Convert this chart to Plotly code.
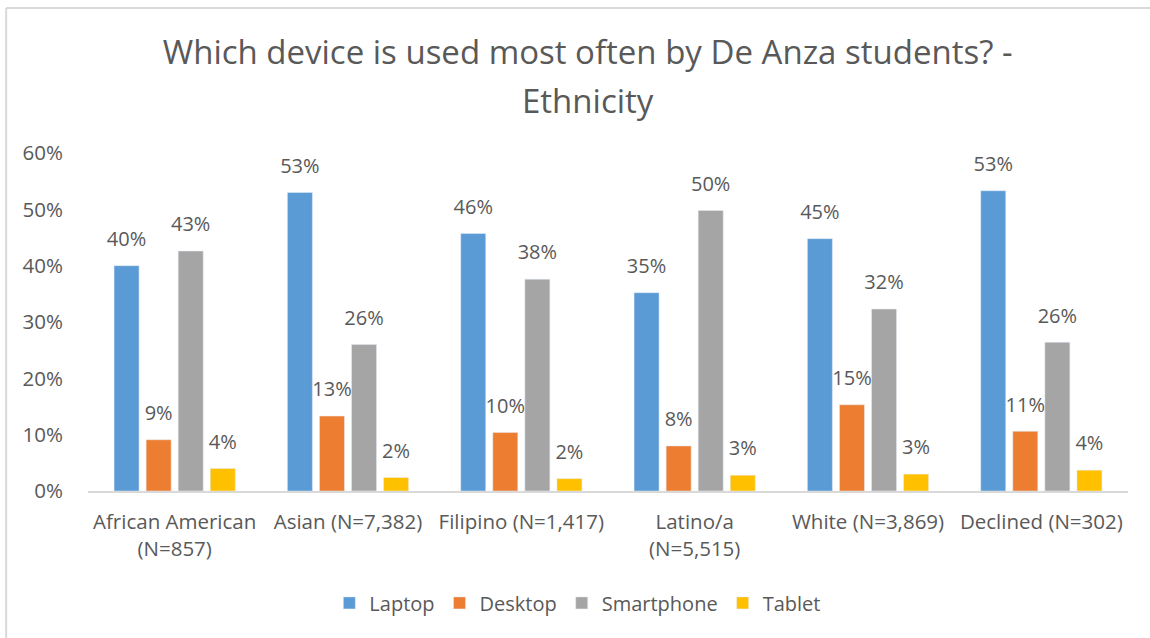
import plotly.graph_objects as go

categories = ["African American<br>(N=857)", "Asian (N=7,382)", "Filipino (N=1,417)",
              "Latino/a<br>(N=5,515)", "White (N=3,869)", "Declined (N=302)"]
laptop = [0.400, 0.530, 0.457, 0.352, 0.448, 0.533]
desktop = [0.091, 0.133, 0.104, 0.080, 0.153, 0.106]
smartphone = [0.426, 0.260, 0.376, 0.498, 0.323, 0.264]
tablet = [0.040, 0.024, 0.022, 0.028, 0.030, 0.037]

series = [("Laptop", laptop, "#5B9BD5"), ("Desktop", desktop, "#ED7D31"),
          ("Smartphone", smartphone, "#A5A5A5"), ("Tablet", tablet, "#FFC000")]

FONT = "Open Sans"
TXT = "#595959"
GAP = 0.26

fig = go.Figure()
for name, vals, color in series:
    fig.add_trace(go.Bar(x=categories, y=vals, name=name, marker_color=color,
                         offsetgroup=name))
for name, vals, color in series:
    fig.add_trace(go.Scatter(x=categories, y=vals, mode="markers+text", name=name,
                             showlegend=False, hoverinfo="skip", offsetgroup=name,
                             marker=dict(size=22, opacity=0, color=color),
                             texttemplate="%{y:.0%}", textposition="top center",
                             textfont=dict(size=20, color=TXT, family=FONT),
                             cliponaxis=False))

fig.update_layout(
    width=1150, height=638,
    paper_bgcolor="white", plot_bgcolor="white",
    font=dict(family=FONT, color=TXT, size=20),
    title=dict(text="Which device is used most often by De Anza students? -",
               x=0.511, xanchor="center", y=1 - 52 / 638, yanchor="middle",
               font=dict(size=33, color=TXT, family=FONT)),
    annotations=[dict(text="Ethnicity", xref="paper", yref="paper",
                      x=(587.5 - 88) / 1040, y=(491 - 100) / 338,
                      xanchor="center", yanchor="middle", showarrow=False,
                      font=dict(size=33, color=TXT, family=FONT))],
    margin=dict(l=88, r=22, t=153, b=147, autoexpand=False),
    barmode="group", bargap=GAP, bargroupgap=0.22,
    scattermode="group", scattergap=GAP,
    legend=dict(orientation="h", x=0.471, xanchor="center", y=-0.331, yanchor="middle",
                font=dict(size=20, color=TXT, family=FONT), itemwidth=30,
                traceorder="normal"),
    showlegend=True,
)
fig.update_xaxes(showline=True, linecolor="#D9D9D9", linewidth=1.5, showgrid=False,
                 ticks="", tickfont=dict(size=20.5, color=TXT), tickangle=0,
                 automargin=False, ticklabelstandoff=12)
fig.update_yaxes(range=[0, 0.6], dtick=0.1, tickformat=".0%", showgrid=False,
                 zeroline=False, showline=False, ticks="", automargin=False,
                 tickfont=dict(size=20.5, color=TXT), ticklabelstandoff=24)

# chart border (top and left visible)
fig.add_shape(type="line", xref="paper", yref="paper", x0=-0.0787, x1=1.03, y0=1.429, y1=1.429,
              line=dict(color="#D9D9D9", width=2))
fig.add_shape(type="line", xref="paper", yref="paper", x0=-0.0787, x1=-0.0787, y0=-0.45, y1=1.429,
              line=dict(color="#D9D9D9", width=2))

fig.write_html("out.html", config={"displayModeBar": False},
               post_script="document.body.style.margin='0px';")
